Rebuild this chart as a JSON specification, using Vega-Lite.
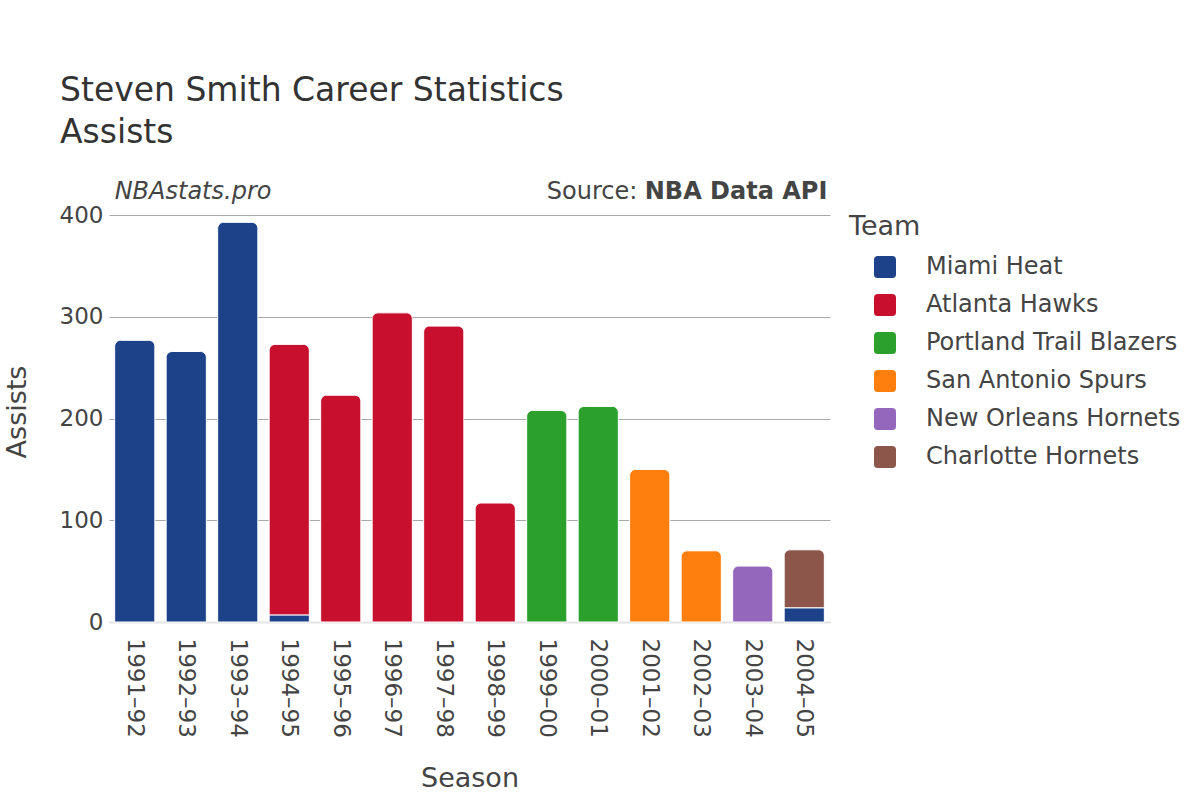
{
  "$schema": "https://vega.github.io/schema/vega-lite/v6.json",
  "width": 721,
  "height": 421,
  "autosize": {"type": "none"},
  "padding": {"left": 109, "top": 201, "right": 370, "bottom": 178},
  "background": "white",
  "config": {"font": "DejaVu Sans", "view": {"stroke": null}},
  "title": {
    "text": ["Steven Smith Career Statistics", "Assists"],
    "anchor": "start",
    "frame": "group",
    "dx": -49,
    "fontSize": 33,
    "fontWeight": "normal",
    "color": "#333333",
    "lineHeight": 42,
    "offset": 30
  },
  "datasets": {
    "bars": [
      {"Season": "1991–92", "Team": "Miami Heat", "Assists": 277, "order": 1},
      {"Season": "1992–93", "Team": "Miami Heat", "Assists": 266, "order": 1},
      {"Season": "1993–94", "Team": "Miami Heat", "Assists": 393, "order": 1},
      {"Season": "1994–95", "Team": "Miami Heat", "Assists": 7, "order": 1},
      {"Season": "1994–95", "Team": "Atlanta Hawks", "Assists": 266, "order": 2},
      {"Season": "1995–96", "Team": "Atlanta Hawks", "Assists": 223, "order": 2},
      {"Season": "1996–97", "Team": "Atlanta Hawks", "Assists": 304, "order": 2},
      {"Season": "1997–98", "Team": "Atlanta Hawks", "Assists": 291, "order": 2},
      {"Season": "1998–99", "Team": "Atlanta Hawks", "Assists": 117, "order": 2},
      {"Season": "1999–00", "Team": "Portland Trail Blazers", "Assists": 208, "order": 3},
      {"Season": "2000–01", "Team": "Portland Trail Blazers", "Assists": 212, "order": 3},
      {"Season": "2001–02", "Team": "San Antonio Spurs", "Assists": 150, "order": 4},
      {"Season": "2002–03", "Team": "San Antonio Spurs", "Assists": 70, "order": 4},
      {"Season": "2003–04", "Team": "New Orleans Hornets", "Assists": 55, "order": 5},
      {"Season": "2004–05", "Team": "Miami Heat", "Assists": 14, "order": 1},
      {"Season": "2004–05", "Team": "Charlotte Hornets", "Assists": 57, "order": 6}
    ],
    "notes": [
      {"left": "NBAstats.pro", "source": "Source:", "api": "NBA Data API"}
    ]
  },
  "layer": [
    {
      "data": {"name": "bars"},
      "transform": [
        {"stack": "Assists", "groupby": ["Season"], "sort": [{"field": "order"}], "as": ["y0", "y1"]},
        {"joinaggregate": [{"op": "max", "field": "y1", "as": "top"}], "groupby": ["Season"]},
        {"filter": "datum.y1 < datum.top"}
      ],
      "mark": {"type": "bar", "stroke": "white", "strokeWidth": 1},
      "encoding": {
        "x": {
          "field": "Season", "type": "nominal",
          "sort": ["1991–92", "1992–93", "1993–94", "1994–95", "1995–96", "1996–97", "1997–98", "1998–99", "1999–00", "2000–01", "2001–02", "2002–03", "2003–04", "2004–05"],
          "scale": {
            "domain": ["1991–92", "1992–93", "1993–94", "1994–95", "1995–96", "1996–97", "1997–98", "1998–99", "1999–00", "2000–01", "2001–02", "2002–03", "2003–04", "2004–05"],
            "paddingInner": 0.22, "paddingOuter": 0.11
          },
          "axis": {
            "title": "Season", "labelAngle": 90, "labelFontSize": 23, "labelColor": "#444444",
            "titleFontSize": 27, "titleColor": "#444444", "titleFontWeight": "normal",
            "domainColor": "#e3e3e3", "domainWidth": 2, "ticks": false,
            "labelPadding": 16, "titlePadding": 28
          }
        },
        "y": {
          "field": "y1", "type": "quantitative",
          "scale": {"domain": [0, 414], "nice": false},
          "axis": {
            "title": "Assists", "values": [0, 100, 200, 300, 400],
            "labelFontSize": 23, "labelColor": "#444444",
            "titleFontSize": 27, "titleColor": "#444444", "titleFontWeight": "normal",
            "gridColor": "#a9a9a9", "gridWidth": 1, "domain": false, "ticks": false,
            "labelPadding": 6, "titlePadding": 28
          }
        },
        "y2": {"field": "y0"},
        "color": {
          "field": "Team", "type": "nominal",
          "scale": {
            "domain": ["Miami Heat", "Atlanta Hawks", "Portland Trail Blazers", "San Antonio Spurs", "New Orleans Hornets", "Charlotte Hornets"],
            "range": ["#1d428a", "#c8102e", "#2ca02c", "#ff7f0e", "#9467bd", "#8c564b"]
          },
          "legend": {
            "title": "Team", "orient": "right", "offset": 6, "padding": 13,
            "titleFontSize": 27, "titleFontWeight": "normal", "titleColor": "#444444", "titlePadding": 14,
            "labelFontSize": 24, "labelColor": "#444444", "labelOffset": 29, "labelLimit": 400,
            "symbolType": "M -0.65 -1 H 0.65 Q 1 -1 1 -0.65 V 0.65 Q 1 1 0.65 1 H -0.65 Q -1 1 -1 0.65 V -0.65 Q -1 -1 -0.65 -1 Z",
            "symbolSize": 484, "symbolStrokeWidth": 0, "symbolOpacity": 1, "symbolOffset": 24,
            "rowPadding": 14
          }
        }
      }
    },
    {
      "data": {"name": "bars"},
      "transform": [
        {"stack": "Assists", "groupby": ["Season"], "sort": [{"field": "order"}], "as": ["y0", "y1"]},
        {"joinaggregate": [{"op": "max", "field": "y1", "as": "top"}], "groupby": ["Season"]},
        {"filter": "datum.y1 >= datum.top"}
      ],
      "mark": {"type": "bar", "stroke": "white", "strokeWidth": 1, "cornerRadiusTopLeft": 6, "cornerRadiusTopRight": 6},
      "encoding": {
        "x": {"field": "Season", "type": "nominal"},
        "y": {"field": "y1", "type": "quantitative"},
        "y2": {"field": "y0"},
        "color": {"field": "Team", "type": "nominal"}
      }
    },
    {
      "data": {"name": "notes"},
      "mark": {"type": "text", "align": "left", "baseline": "middle", "fontSize": 24, "fontStyle": "italic", "color": "#444444", "dy": -23},
      "encoding": {
        "x": {"datum": "1991–92", "type": "nominal", "bandPosition": 0},
        "y": {"datum": 400, "type": "quantitative"},
        "text": {"field": "left"}
      }
    },
    {
      "data": {"name": "notes"},
      "mark": {"type": "text", "align": "right", "baseline": "middle", "fontSize": 24, "color": "#444444", "dy": -23, "dx": -187},
      "encoding": {
        "x": {"datum": "2004–05", "type": "nominal", "bandPosition": 1},
        "y": {"datum": 400, "type": "quantitative"},
        "text": {"field": "source"}
      }
    },
    {
      "data": {"name": "notes"},
      "mark": {"type": "text", "align": "right", "baseline": "middle", "fontSize": 24, "fontWeight": "bold", "color": "#444444", "dy": -23, "dx": 3},
      "encoding": {
        "x": {"datum": "2004–05", "type": "nominal", "bandPosition": 1},
        "y": {"datum": 400, "type": "quantitative"},
        "text": {"field": "api"}
      }
    }
  ]
}
